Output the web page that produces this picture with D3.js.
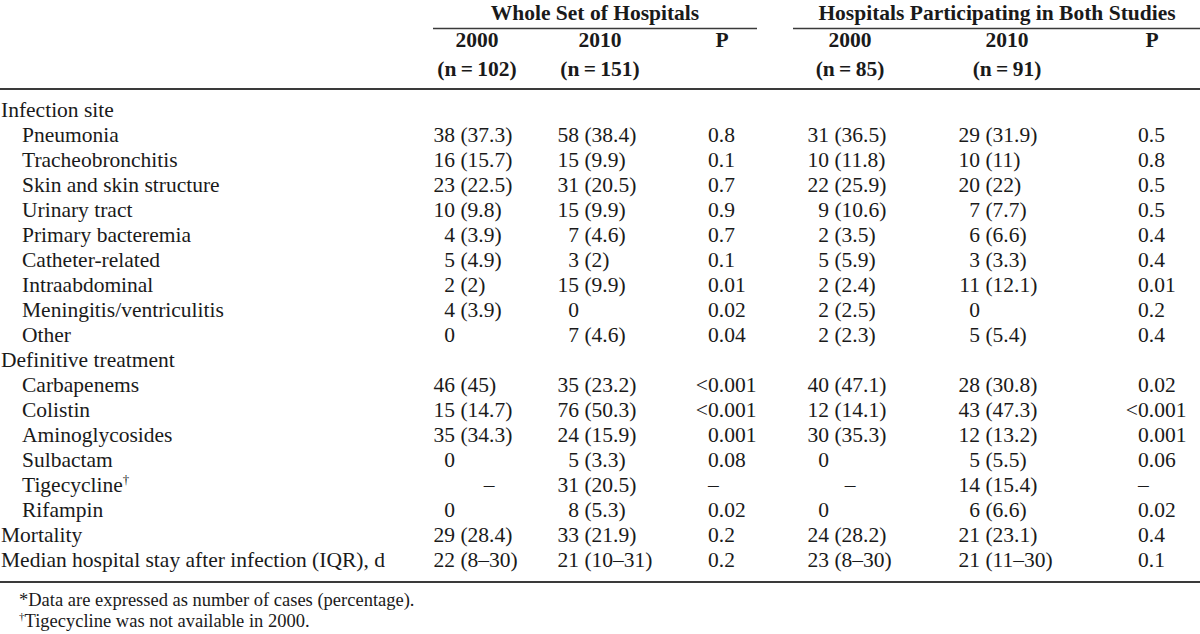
<!DOCTYPE html>
<html>
<head>
<meta charset="utf-8">
<script src="https://cdn.jsdelivr.net/npm/d3@7"></script>
<style>
  html, body { margin: 0; padding: 0; background: #fff; }
  svg { display: block; }
  text { font-family: "Liberation Serif", "Times New Roman", serif; fill: #1a1a1a; }
</style>
</head>
<body>
<svg id="chart" width="1200" height="634"></svg>
<script>
// ---------- DATA ----------
const groupTitles = ["Whole Set of Hospitals", "Hospitals Participating in Both Studies"];
const columnYears = ["2000", "2010", "P", "2000", "2010", "P"];
const columnNs = ["(n\u2009=\u2009102)", "(n\u2009=\u2009151)", "", "(n\u2009=\u200985)", "(n\u2009=\u200991)", ""];

const rowLabels = [
  "Infection site", "Pneumonia", "Tracheobronchitis", "Skin and skin structure", "Urinary tract",
  "Primary bacteremia", "Catheter-related", "Intraabdominal", "Meningitis/ventriculitis", "Other",
  "Definitive treatment", "Carbapenems", "Colistin", "Aminoglycosides", "Sulbactam",
  "Tigecycline", "Rifampin", "Mortality", "Median hospital stay after infection (IQR), d"
];
const rowLevel = [0,1,1,1,1,1,1,1,1,1,0,1,1,1,1,1,1,0,0];
const rowMark = ["","","","","","","","","","","","","","","","\u2020","","",""];

const wholeY2000 = ["", "38 (37.3)", "16 (15.7)", "23 (22.5)", "10 (9.8)", "4 (3.9)", "5 (4.9)", "2 (2)", "4 (3.9)", "0",
  "", "46 (45)", "15 (14.7)", "35 (34.3)", "0", "\u2013", "0", "29 (28.4)", "22 (8\u201330)"];
const wholeY2010 = ["", "58 (38.4)", "15 (9.9)", "31 (20.5)", "15 (9.9)", "7 (4.6)", "3 (2)", "15 (9.9)", "0", "7 (4.6)",
  "", "35 (23.2)", "76 (50.3)", "24 (15.9)", "5 (3.3)", "31 (20.5)", "8 (5.3)", "33 (21.9)", "21 (10\u201331)"];
const wholeP = ["", "0.8", "0.1", "0.7", "0.9", "0.7", "0.1", "0.01", "0.02", "0.04",
  "", "<0.001", "<0.001", "0.001", "0.08", "\u2013", "0.02", "0.2", "0.2"];
const bothY2000 = ["", "31 (36.5)", "10 (11.8)", "22 (25.9)", "9 (10.6)", "2 (3.5)", "5 (5.9)", "2 (2.4)", "2 (2.5)", "2 (2.3)",
  "", "40 (47.1)", "12 (14.1)", "30 (35.3)", "0", "\u2013", "0", "24 (28.2)", "23 (8\u201330)"];
const bothY2010 = ["", "29 (31.9)", "10 (11)", "20 (22)", "7 (7.7)", "6 (6.6)", "3 (3.3)", "11 (12.1)", "0", "5 (5.4)",
  "", "28 (30.8)", "43 (47.3)", "12 (13.2)", "5 (5.5)", "14 (15.4)", "6 (6.6)", "21 (23.1)", "21 (11\u201330)"];
const bothP = ["", "0.5", "0.8", "0.5", "0.5", "0.4", "0.4", "0.01", "0.2", "0.4",
  "", "0.02", "<0.001", "0.001", "0.06", "\u2013", "0.02", "0.4", "0.1"];

const footnotes = [
  {mark: "*", text: "Data are expressed as number of cases (percentage)."},
  {mark: "\u2020", text: "Tigecycline was not available in 2000."}
];

// ---------- LAYOUT ----------
const svg = d3.select("#chart");
const FS = 21.5, FS_NOTE = 18.5;
const rule = "#3a3a3a";

const columns = [
  {key: "w2000", kind: "count", values: wholeY2000, anchor: 455, center: 477, dash: 489},
  {key: "w2010", kind: "count", values: wholeY2010, anchor: 579, center: 600, dash: 600},
  {key: "wP",    kind: "p",     values: wholeP,     anchor: 708, center: 722},
  {key: "b2000", kind: "count", values: bothY2000,  anchor: 829, center: 850, dash: 850},
  {key: "b2010", kind: "count", values: bothY2010,  anchor: 980, center: 1007, dash: 1007},
  {key: "bP",    kind: "p",     values: bothP,      anchor: 1138, center: 1152}
];
const groups = [
  {title: groupTitles[0], x0: 433, x1: 757, cx: 595},
  {title: groupTitles[1], x0: 793, x1: 1200, cx: 997}
];

const y = d3.scaleLinear().domain([0, rowLabels.length - 1]).range([117, 567]);
const spaceW = FS * 0.25;

const g = svg.append("g");

// Group titles and rules
g.selectAll("text.grp").data(groups).join("text")
  .attr("class", "grp")
  .attr("x", d => d.cx)
  .attr("y", 19.5)
  .attr("text-anchor", "middle")
  .attr("font-weight", "bold")
  .attr("font-size", FS)
  .text(d => d.title);
g.selectAll("line.grp").data(groups).join("line")
  .attr("class", "grp")
  .attr("x1", d => d.x0).attr("x2", d => d.x1)
  .attr("y1", 28.5).attr("y2", 28.5)
  .attr("stroke", rule).attr("stroke-width", 1.6);

// Column headers
g.selectAll("text.yr").data(columns).join("text")
  .attr("class", "yr")
  .attr("x", d => d.center)
  .attr("y", 47)
  .attr("text-anchor", "middle")
  .attr("font-weight", "bold")
  .attr("font-size", FS)
  .text((d, i) => columnYears[i]);
g.selectAll("text.nn").data(columns).join("text")
  .attr("class", "nn")
  .attr("x", d => d.center)
  .attr("y", 76)
  .attr("text-anchor", "middle")
  .attr("font-weight", "bold")
  .attr("font-size", FS)
  .text((d, i) => columnNs[i]);

// Main rules
[89, 582].forEach(yy => {
  g.append("line").attr("x1", 0).attr("x2", 1200).attr("y1", yy).attr("y2", yy)
    .attr("stroke", rule).attr("stroke-width", 2);
});

// Row labels
const labels = g.selectAll("text.lbl").data(rowLabels).join("text")
  .attr("class", "lbl")
  .attr("x", (d, i) => rowLevel[i] ? 22 : 1)
  .attr("y", (d, i) => y(i))
  .attr("font-size", FS);
labels.append("tspan").text(d => d);
labels.filter((d, i) => rowMark[i]).append("tspan")
  .attr("font-size", FS * 0.6).attr("dy", -8)
  .text(d => rowMark[rowLabels.indexOf(d)]);

// Cells
columns.forEach(col => {
  const cells = col.values.map((v, i) => ({v, i})).filter(c => c.v !== "");
  cells.forEach(c => {
    const yy = y(c.i);
    if (c.v === "\u2013") {
      g.append("text").attr("x", col.kind === "p" ? col.anchor : col.dash)
        .attr("y", yy).attr("font-size", FS)
        .attr("text-anchor", col.kind === "p" ? "start" : "middle")
        .text(c.v);
      return;
    }
    if (col.kind === "count") {
      const sp = c.v.indexOf(" ");
      const head = sp < 0 ? c.v : c.v.slice(0, sp);
      const tail = sp < 0 ? "" : c.v.slice(sp + 1);
      g.append("text").attr("x", col.anchor).attr("y", yy).attr("font-size", FS)
        .attr("text-anchor", "end").text(head);
      if (tail) g.append("text").attr("x", col.anchor + spaceW).attr("y", yy).attr("font-size", FS)
        .attr("text-anchor", "start").text(tail);
    } else {
      const lt = c.v.startsWith("<");
      if (lt) g.append("text").attr("x", col.anchor).attr("y", yy).attr("font-size", FS)
        .attr("text-anchor", "end").text("<");
      g.append("text").attr("x", col.anchor).attr("y", yy).attr("font-size", FS)
        .attr("text-anchor", "start").text(lt ? c.v.slice(1) : c.v);
    }
  });
});

// Footnotes
const fn = g.selectAll("text.fn").data(footnotes).join("text")
  .attr("class", "fn")
  .attr("x", 19)
  .attr("y", (d, i) => 606 + i * 21)
  .attr("font-size", FS_NOTE);
fn.append("tspan")
  .attr("font-size", d => d.mark === "*" ? FS_NOTE : FS_NOTE * 0.6)
  .attr("dy", d => d.mark === "*" ? 0 : -7)
  .text(d => d.mark);
fn.append("tspan")
  .attr("dy", d => d.mark === "*" ? 0 : 7)
  .text(d => d.text);
</script>
</body>
</html>
